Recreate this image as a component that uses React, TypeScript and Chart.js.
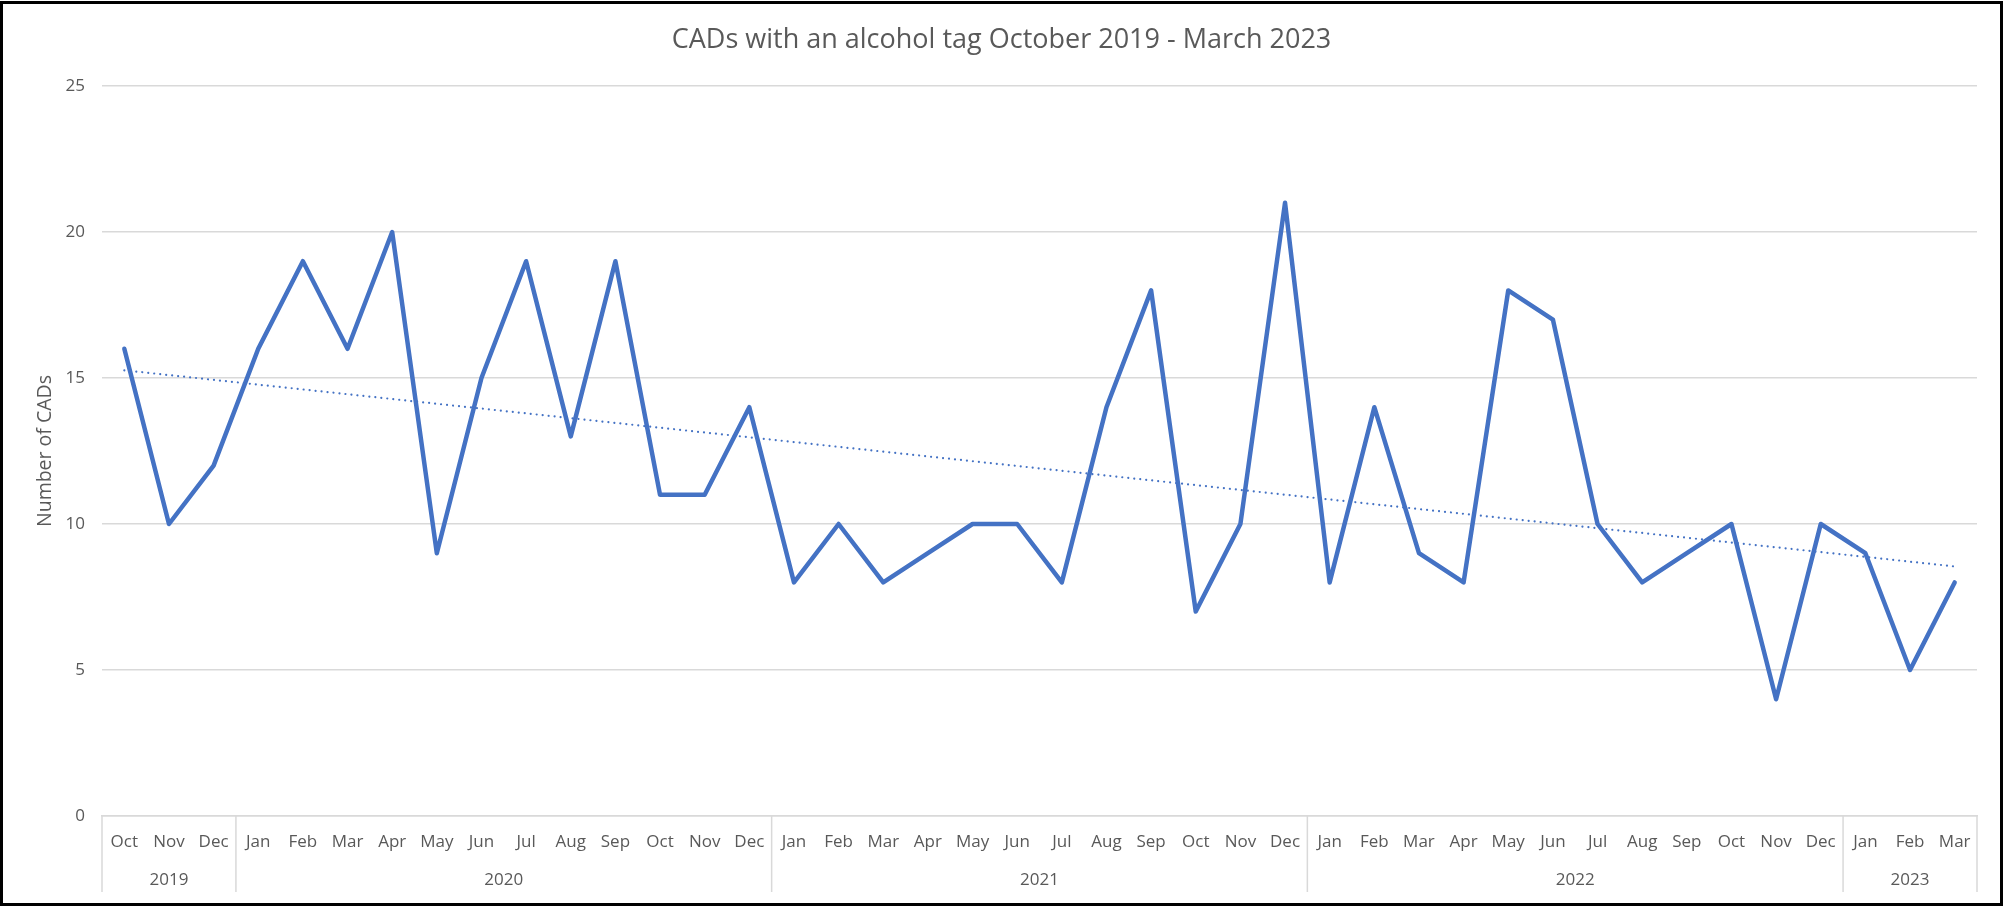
import React, { useEffect, useRef } from "react";
import { Chart, registerables } from "chart.js";

Chart.register(...registerables);

const monthLabels = [
  "Oct", "Nov", "Dec",
  "Jan", "Feb", "Mar", "Apr", "May", "Jun", "Jul", "Aug", "Sep", "Oct", "Nov", "Dec",
  "Jan", "Feb", "Mar", "Apr", "May", "Jun", "Jul", "Aug", "Sep", "Oct", "Nov", "Dec",
  "Jan", "Feb", "Mar", "Apr", "May", "Jun", "Jul", "Aug", "Sep", "Oct", "Nov", "Dec",
  "Jan", "Feb", "Mar",
];

const yearLabels = ["2019", "2020", "2021", "2022", "2023"];
const monthsPerYear = [3, 12, 12, 12, 3];

const cadCounts = [
  16, 10, 12,
  16, 19, 16, 20, 9, 15, 19, 13, 19, 11, 11, 14,
  8, 10, 8, 9, 10, 10, 8, 14, 18, 7, 10, 21,
  8, 14, 9, 8, 18, 17, 10, 8, 9, 10, 4, 10,
  9, 5, 8,
];

const yTicks = { min: 0, max: 25, step: 5 };

const titleText = "CADs with an alcohol tag October 2019 - March 2023";
const yAxisTitle = "Number of CADs";

function linearTrend(values: number[]): number[] {
  const n = values.length;
  let sx = 0, sy = 0, sxy = 0, sxx = 0;
  values.forEach((v, i) => {
    sx += i; sy += v; sxy += i * v; sxx += i * i;
  });
  const slope = (n * sxy - sx * sy) / (n * sxx - sx * sx);
  const icpt = (sy - slope * sx) / n;
  return values.map((_, i) => icpt + slope * i);
}

const FONT = "'Open Sans', 'Noto Sans', sans-serif";
const TEXT = "#595959";
const GRID = "#d9d9d9";

const yearRowPlugin = {
  id: "yearRow",
  afterDraw(chart: any) {
    const ctx = chart.ctx;
    const xs = chart.scales.x;
    const area = chart.chartArea;
    const half = (xs.getPixelForValue(1) - xs.getPixelForValue(0)) / 2;
    const top = area.bottom;
    const bottom = area.bottom + 76;
    ctx.save();
    ctx.strokeStyle = GRID;
    ctx.lineWidth = 1.5;
    ctx.fillStyle = TEXT;
    ctx.font = `17px ${FONT}`;
    ctx.textAlign = "center";
    ctx.textBaseline = "middle";
    let idx = 0;
    yearLabels.forEach((yr, k) => {
      const start = idx;
      const end = idx + monthsPerYear[k] - 1;
      const l = xs.getPixelForValue(start) - half;
      const r = xs.getPixelForValue(end) + half;
      ctx.beginPath();
      ctx.moveTo(l, top);
      ctx.lineTo(l, bottom);
      ctx.stroke();
      if (k === yearLabels.length - 1) {
        ctx.beginPath();
        ctx.moveTo(r, top);
        ctx.lineTo(r, bottom);
        ctx.stroke();
      }
      ctx.fillText(yr, (l + r) / 2, area.bottom + 64);
      idx = end + 1;
    });
    // outer frame
    ctx.strokeStyle = "#000";
    ctx.lineWidth = 3;
    ctx.strokeRect(1.5, 2.5, chart.width - 3, chart.height - 5);
    ctx.restore();
  },
};

export default function App() {
  const ref = useRef<HTMLCanvasElement>(null);
  useEffect(() => {
    if (!ref.current) return;
    const trend = linearTrend(cadCounts);
    const chart = new Chart(ref.current, {
      type: "line",
      data: {
        labels: monthLabels,
        datasets: [
          {
            label: "CADs",
            data: cadCounts,
            borderColor: "#4472C4",
            borderWidth: 4.5,
            pointRadius: 0,
            tension: 0,
            borderJoinStyle: "round",
            borderCapStyle: "round",
          },
          {
            label: "Trend",
            data: trend,
            borderColor: "#4472C4",
            borderWidth: 2.2,
            borderDash: [0.01, 6],
            borderCapStyle: "round",
            pointRadius: 0,
            tension: 0,
          },
        ],
      },
      options: {
        animation: false,
        responsive: false,
        layout: { padding: { left: 0, right: 0, top: 0, bottom: 0 } },
        plugins: {
          legend: { display: false },
          tooltip: { enabled: false },
          title: {
            display: true,
            text: titleText,
            color: TEXT,
            font: { family: FONT, size: 27, weight: "normal", lineHeight: 1.2 },
            padding: { top: 24, bottom: 29.6 },
          },
        },
        scales: {
          x: {
            type: "category",
            offset: true,
            grid: { display: false, drawTicks: false },
            border: { display: true, color: GRID, width: 1.5 },
            ticks: {
              color: TEXT,
              font: { family: FONT, size: 17, lineHeight: 1.2 },
              padding: 16,
              maxRotation: 0,
              autoSkip: false,
            },
            afterFit: (s: any) => { s.height = 91; },
          },
          y: {
            min: yTicks.min,
            max: yTicks.max,
            grid: { color: GRID, lineWidth: 1.5, drawTicks: false },
            border: { display: false },
            ticks: {
              stepSize: yTicks.step,
              color: TEXT,
              font: { family: FONT, size: 17 },
              padding: 17,
            },
            title: {
              display: true,
              text: yAxisTitle,
              color: TEXT,
              font: { family: FONT, size: 19.5, lineHeight: 1.2 },
              padding: { top: 34, bottom: 0 },
            },
            afterFit: (s: any) => { s.width = 102; },
          },
          yRightGap: {
            type: "linear",
            position: "right",
            display: true,
            min: 0,
            max: 1,
            grid: { display: false, drawTicks: false },
            border: { display: false },
            ticks: { display: false },
            afterFit: (s: any) => { s.width = 26; },
          },
        },
      },
      plugins: [yearRowPlugin],
    });
    return () => chart.destroy();
  }, []);
  return (
    <div style={{ position: "fixed", left: 0, top: 0, width: 2003, height: 907, background: "#fff" }}>
      <canvas ref={ref} width={2003} height={907} />
    </div>
  );
}
